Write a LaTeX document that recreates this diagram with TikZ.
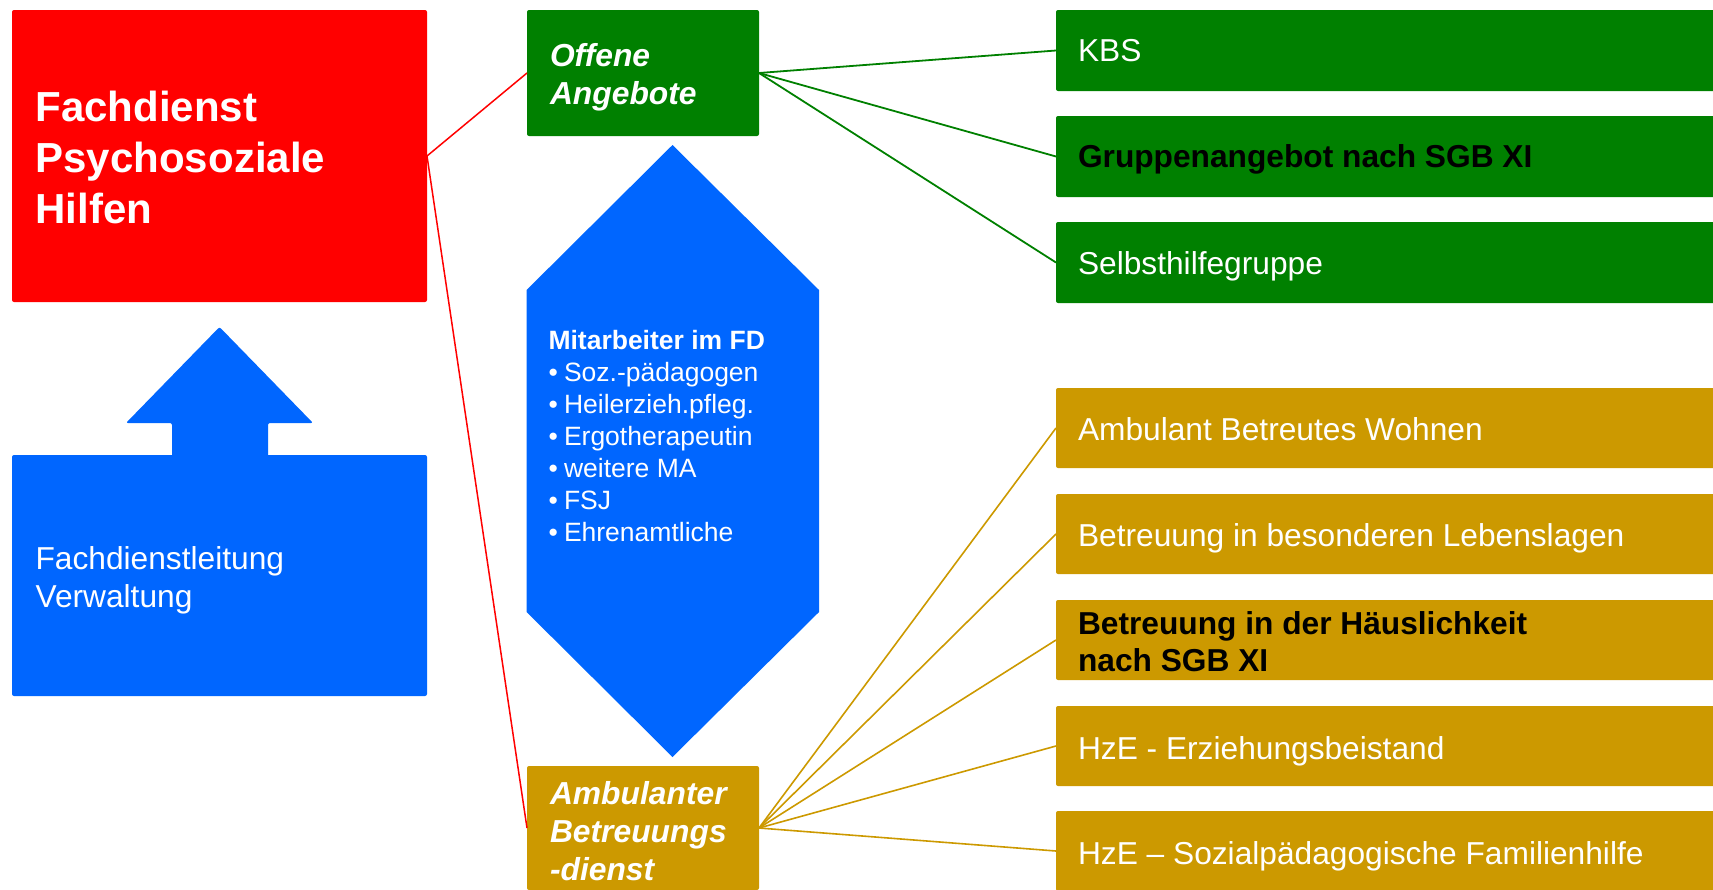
\documentclass[tikz,border=0pt]{standalone}
\usepackage{fontspec}
\setmainfont{Liberation Sans}
\definecolor{redc}{HTML}{FF0000}
\definecolor{greenc}{HTML}{008000}
\definecolor{bluec}{HTML}{0066FF}
\definecolor{goldc}{HTML}{CC9900}
\begin{document}
\begin{tikzpicture}[x=1pt,y=-1pt,
  box/.style={rectangle, rounded corners=2pt, inner sep=0pt, outer sep=0pt, anchor=north west},
  greenbox/.style={box, fill=greenc, minimum width=700pt, minimum height=81pt},
  goldbox/.style={box, fill=goldc, minimum width=700pt, minimum height=80pt},
  txt/.style={anchor=base west, inner sep=0pt, outer sep=0pt, text=white},
  fbig/.style={font=\fontsize{42}{50}\selectfont\bfseries},
  fmid/.style={font=\fontsize{31.7}{38}\selectfont},
  fmidbi/.style={font=\fontsize{31.8}{38}\selectfont\bfseries\itshape},
  fmidb/.style={font=\fontsize{31.7}{38}\selectfont\bfseries},
  fsm/.style={font=\fontsize{26.5}{32}\selectfont},
  fsmb/.style={font=\fontsize{26.5}{32}\selectfont\bfseries},
  redline/.style={draw=redc, line width=1.5pt},
  greenline/.style={draw=greenc, line width=1.8pt},
  goldline/.style={draw=goldc, line width=1.6pt}
]
\useasboundingbox (0,0) rectangle (1713,889);
\clip (0,0) rectangle (1713,889);

% left column
\node[box, fill=redc, minimum width=415pt, minimum height=292pt] (fd) at (12,10) {};
\node[txt, fbig] (fd1) at (35.6,121) {Fachdienst};
\node[txt, fbig] (fd2) at (35.6,172) {Psychosoziale};
\node[txt, fbig] (fd3) at (35.6,223) {Hilfen};

\fill[bluec, rounded corners=2pt] (126,423) -- (219.5,327) -- (313,423) -- (268,423) -- (268,460) -- (172,460) -- (172,423) -- cycle;
\node[box, fill=bluec, minimum width=415pt, minimum height=241pt] (fl) at (12,455) {};
\node[txt, fmid] (fl1) at (35.6,569) {Fachdienstleitung};
\node[txt, fmid] (fl2) at (35.6,607) {Verwaltung};

% middle column
\node[box, fill=greenc, minimum width=232pt, minimum height=126pt] (oa) at (527,10) {};
\node[txt, fmidbi] (oa1) at (550,66) {Offene};
\node[txt, fmidbi] (oa2) at (550,104) {Angebote};

\fill[bluec] (672.5,145) -- (819,290) -- (819,612) -- (672.5,757) -- (526.6,612) -- (526.6,290) -- cycle;
\node[txt, fsmb] (ma0) at (548.5,349) {Mitarbeiter im FD};
\node[txt, fsm] (mb1) at (548.5,381.5) {•};
\node[txt, fsm] (ma1) at (564,381.5) {Soz.-pädagogen};
\node[txt, fsm] (mb2) at (548.5,413.5) {•};
\node[txt, fsm] (ma2) at (564,413.5) {Heilerzieh.pfleg.};
\node[txt, fsm] (mb3) at (548.5,445.5) {•};
\node[txt, fsm] (ma3) at (564,445.5) {Ergotherapeutin};
\node[txt, fsm] (mb4) at (548.5,477.5) {•};
\node[txt, fsm] (ma4) at (564,477.5) {weitere MA};
\node[txt, fsm] (mb5) at (548.5,509.5) {•};
\node[txt, fsm] (ma5) at (564,509.5) {FSJ};
\node[txt, fsm] (mb6) at (548.5,541.5) {•};
\node[txt, fsm] (ma6) at (564,541.5) {Ehrenamtliche};

\node[box, fill=goldc, minimum width=232pt, minimum height=124pt] (abd) at (527,766) {};
\node[txt, fmidbi] (abd1) at (550,804) {Ambulanter};
\node[txt, fmidbi] (abd2) at (550,842) {Betreuungs};
\node[txt, fmidbi] (abd3) at (550,880) {-dienst};

% right column green
\node[greenbox] (g1) at (1056,10) {};
\node[txt, fmid] (g1t) at (1078,61) {KBS};
\node[greenbox] (g2) at (1056,116) {};
\node[txt, fmidb, text=black] (g2t) at (1078,167.5) {Gruppenangebot nach SGB XI};
\node[greenbox] (g3) at (1056,222) {};
\node[txt, fmid] (g3t) at (1078,274) {Selbsthilfegruppe};

% right column gold
\node[goldbox] (y1) at (1056,388) {};
\node[txt, fmid] (y1t) at (1078,440.5) {Ambulant Betreutes Wohnen};
\node[goldbox] (y2) at (1056,494) {};
\node[txt, fmid] (y2t) at (1078,546.5) {Betreuung in besonderen Lebenslagen};
\node[goldbox] (y3) at (1056,600) {};
\node[txt, fmidb, text=black] (y3t) at (1078,634) {Betreuung in der Häuslichkeit};
\node[txt, fmidb, text=black] (y3u) at (1078,671) {nach SGB XI};
\node[goldbox] (y4) at (1056,706) {};
\node[txt, fmid] (y4t) at (1078,759) {HzE - Erziehungsbeistand};
\node[goldbox] (y5) at (1056,811) {};
\node[txt, fmid] (y5t) at (1078,864.5) {HzE – Sozialpädagogische Familienhilfe};

% connectors
\draw[redline] (fd.east) -- (oa.west);
\draw[redline] (fd.east) -- (abd.west);
\draw[greenline] (oa.east) -- (g1.west);
\draw[greenline] (oa.east) -- (g2.west);
\draw[greenline] (oa.east) -- (g3.west);
\draw[goldline] (abd.east) -- (y1.west);
\draw[goldline] (abd.east) -- (y2.west);
\draw[goldline] (abd.east) -- (y3.west);
\draw[goldline] (abd.east) -- (y4.west);
\draw[goldline] (abd.east) -- (y5.west);
\end{tikzpicture}
\end{document}
